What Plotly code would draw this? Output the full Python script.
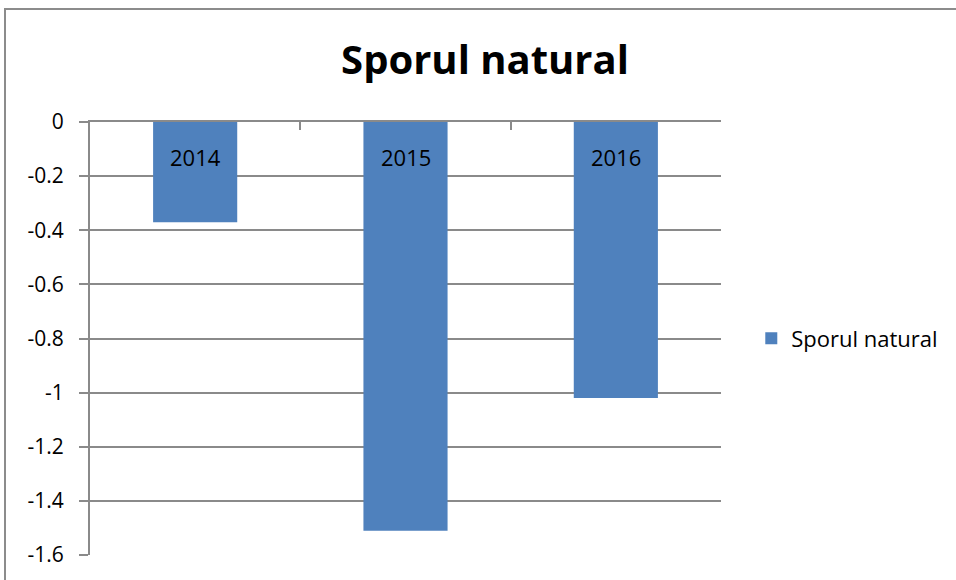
import plotly.graph_objects as go

categories = ["2014", "2015", "2016"]
values = [-0.37, -1.51, -1.02]
series_name = "Sporul natural"
title_text = "Sporul natural"
y_tick_vals = [0, -0.2, -0.4, -0.6, -0.8, -1.0, -1.2, -1.4, -1.6]
y_tick_text = ["0", "-0.2", "-0.4", "-0.6", "-0.8", "-1", "-1.2", "-1.4", "-1.6"]

FONT = "Open Sans"
GRID = "#8a8a8a"
FS = 21

fig = go.Figure()
fig.add_trace(go.Bar(
    x=categories, y=values, name=series_name,
    marker=dict(color="#4F81BD", line=dict(width=0)),
    showlegend=True,
))

# category labels sit just under the top (zero) axis line, inside the bars
annotations = [dict(x=i, y=1, xref="x", yref="paper", text=c, showarrow=False,
                    xanchor="center", yanchor="middle", yshift=-35,
                    font=dict(family=FONT, size=22, color="black"))
               for i, c in enumerate(categories)]

fig.update_layout(
    width=956, height=580,
    margin=dict(l=90, r=235, t=122, b=25),
    paper_bgcolor="white", plot_bgcolor="white",
    bargap=0.6,
    font=dict(family=FONT, size=FS, color="black"),
    title=dict(text="<b>" + title_text + "</b>", x=0.626, xref="paper", xanchor="center",
               y=1 - 60 / 580, yref="container", yanchor="middle",
               font=dict(family=FONT, size=40, color="black")),
    showlegend=True,
    legend=dict(x=1.048, xanchor="left", y=0.5, yanchor="middle",
                font=dict(family=FONT, size=22), itemwidth=30, bgcolor="rgba(0,0,0,0)"),
    xaxis=dict(
        type="category", range=[-0.5, 2.5], side="top",
        showticklabels=False,
        showline=True, linecolor=GRID, linewidth=2,
        ticks="inside", tickson="boundaries", ticklen=8, tickcolor=GRID, tickwidth=2,
        showgrid=False, zeroline=False,
    ),
    yaxis=dict(
        range=[-1.6, 0], tickvals=y_tick_vals, ticktext=y_tick_text,
        showline=True, linecolor=GRID, linewidth=2,
        ticks="outside", ticklen=9, tickcolor=GRID, tickwidth=2,
        showgrid=True, gridcolor=GRID, gridwidth=2, zeroline=False,
        tickfont=dict(family=FONT, size=FS, color="black"),
        ticklabelstandoff=11,
    ),
    annotations=annotations,
    shapes=[dict(type="rect", xref="paper", yref="paper",
                 x0=(5 - 90) / 631, x1=1.6, y0=-0.3, y1=(555 - 9) / 433,
                 line=dict(color="#8c8c8c", width=2), fillcolor="rgba(0,0,0,0)", layer="below")],
)

fig.write_html("out.html", config={"displayModeBar": False},
               post_script="document.body.style.margin='0';document.body.style.overflow='hidden';")
